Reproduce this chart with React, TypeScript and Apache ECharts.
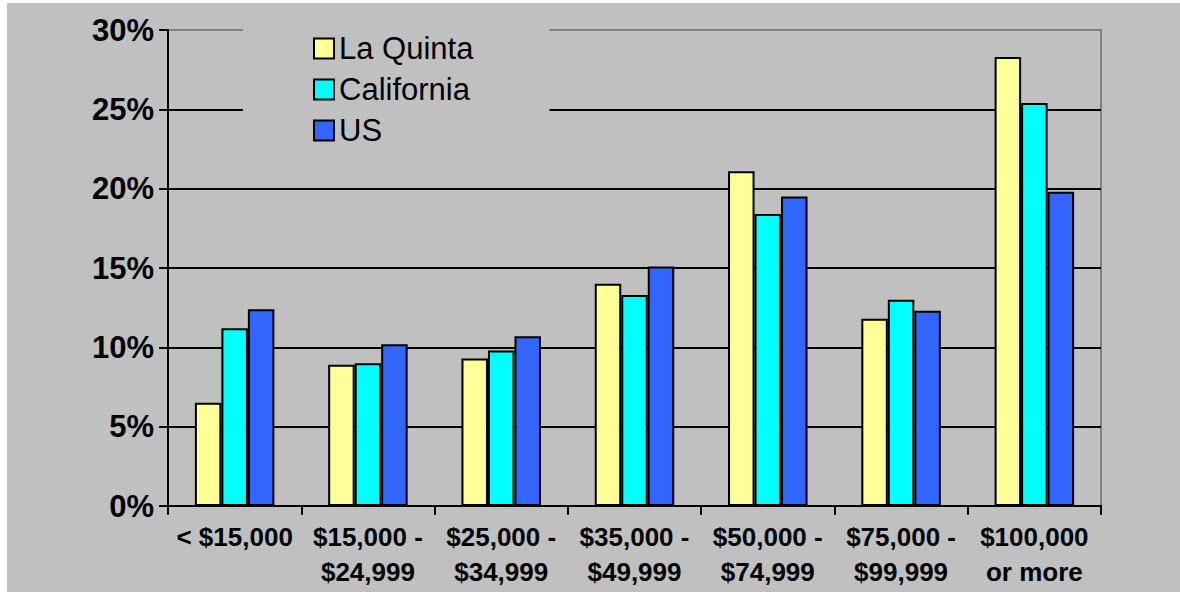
import React, { useEffect, useRef } from "react";
import * as echarts from "echarts";

const categories = [
  "< $15,000",
  "$15,000 -\n$24,999",
  "$25,000 -\n$34,999",
  "$35,000 -\n$49,999",
  "$50,000 -\n$74,999",
  "$75,000 -\n$99,999",
  "$100,000\nor more",
];
const laQuinta = [6.5, 8.9, 9.3, 14.0, 21.1, 11.8, 28.3];
const california = [11.2, 9.0, 9.8, 13.3, 18.4, 13.0, 25.4];
const us = [12.4, 10.2, 10.7, 15.1, 19.5, 12.3, 19.8];
const seriesNames = ["La Quinta", "California", "US"];
const seriesColors = ["#FFFF99", "#00FFFF", "#3366FF"];

const FONT = "'Liberation Sans', Arial, sans-serif";

export default function App() {
  const ref = useRef<HTMLDivElement>(null);
  useEffect(() => {
    document.body.style.margin = "0";
    if (!ref.current) return;
    const chart = echarts.init(ref.current, null, { renderer: "svg" });
    const datasets = [laQuinta, california, us];
    chart.setOption({
      animation: false,
      backgroundColor: "#C0C0C0",
      textStyle: { fontFamily: FONT },
      grid: {
        left: 161,
        right: 79,
        top: 27,
        bottom: 86,
        show: true,
        borderColor: "#808080",
        borderWidth: 2,
        backgroundColor: "transparent",
      },
      legend: {
        orient: "vertical",
        left: 236,
        top: 11,
        padding: [19, 76, 16, 70],
        backgroundColor: "#C0C0C0",
        itemWidth: 20,
        itemHeight: 20,
        itemGap: 10,
        icon: "rect",
        itemStyle: { borderColor: "#000", borderWidth: 2 },
        textStyle: { fontFamily: FONT, fontSize: 31, color: "#000" },
        data: seriesNames,
      },
      xAxis: {
        type: "category",
        data: categories,
        axisLine: { lineStyle: { color: "#000", width: 2 } },
        axisTick: { show: true, length: 9, lineStyle: { color: "#000", width: 2 } },
        axisLabel: {
          interval: 0,
          margin: 13,
          fontFamily: FONT,
          fontSize: 26,
          fontWeight: "bold",
          lineHeight: 35,
          color: "#000",
        },
      },
      yAxis: {
        type: "value",
        min: 0,
        max: 30,
        interval: 5,
        axisLine: { show: true, lineStyle: { color: "#000", width: 2 } },
        axisTick: { show: true, length: 9, lineStyle: { color: "#000", width: 2 } },
        axisLabel: {
          formatter: "{value}%",
          margin: 14,
          fontFamily: FONT,
          fontSize: 31,
          fontWeight: "bold",
          color: "#000",
        },
        splitLine: {
          show: true,
          lineStyle: {
            color: ["#000", "#000", "#000", "#000", "#000", "#000", "#808080"],
            width: 2,
          },
        },
      },
      series: datasets.map((d, i) => ({
        name: seriesNames[i],
        type: "bar",
        data: d,
        barWidth: 26.5,
        barGap: "0%",
        itemStyle: { color: seriesColors[i], borderColor: "#000", borderWidth: 2 },
      })),
    });
    return () => chart.dispose();
  }, []);
  return (
    <div style={{ position: "relative", width: 1180, height: 592, background: "#fff" }}>
      <div
        ref={ref}
        style={{ position: "absolute", left: 7, top: 3, width: 1173, height: 589 }}
      />
    </div>
  );
}
